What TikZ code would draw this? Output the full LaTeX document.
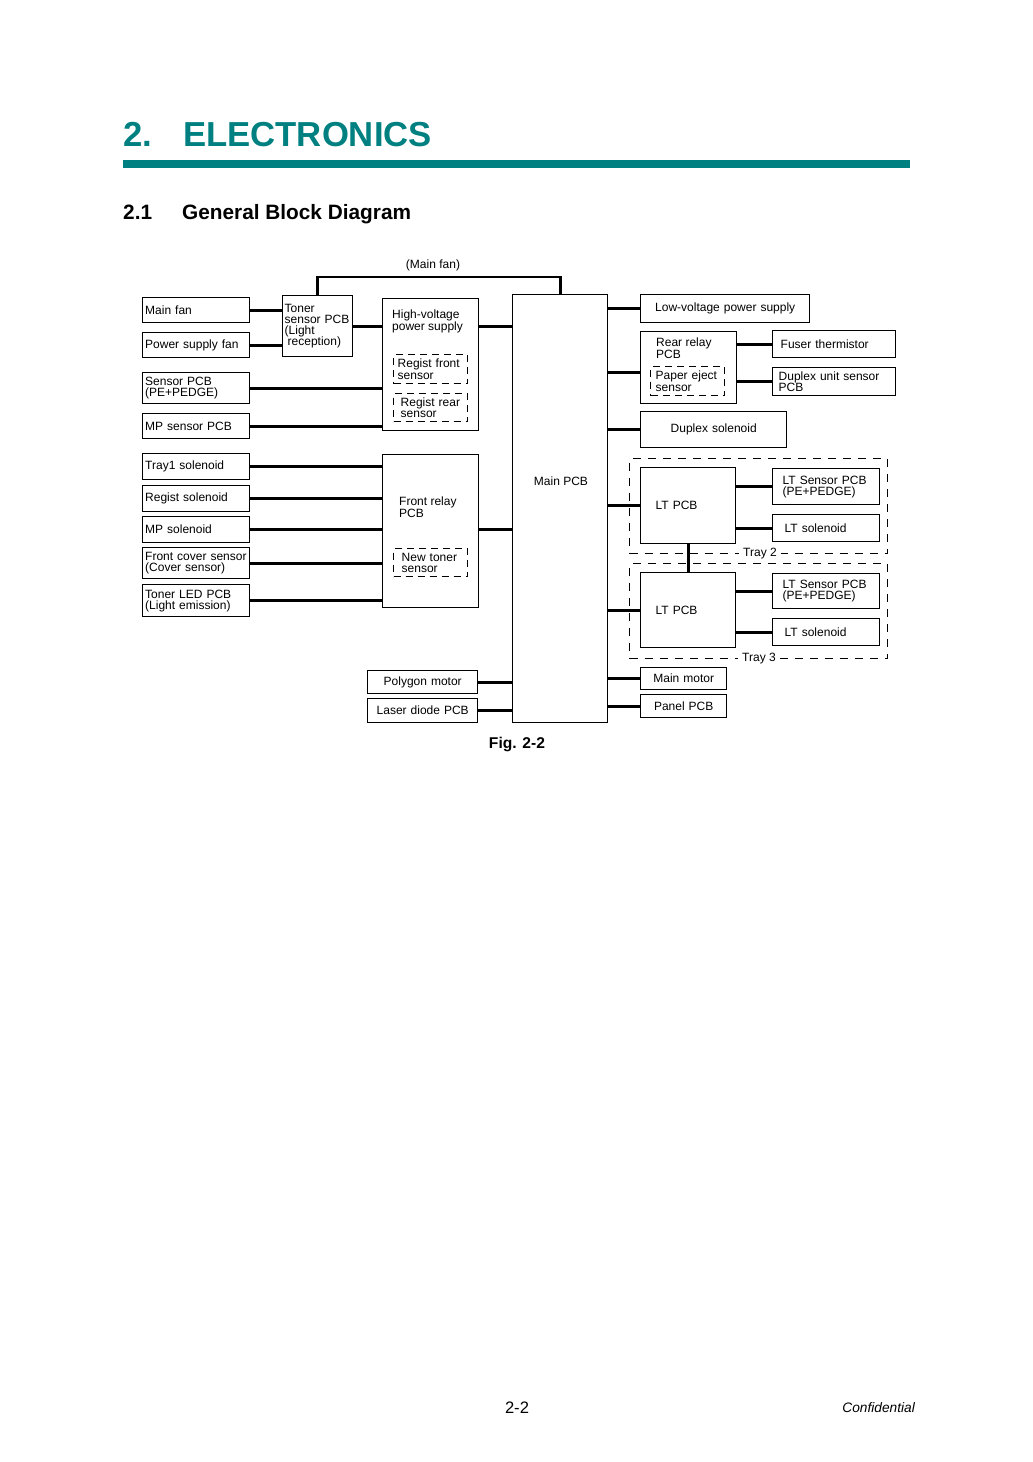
\documentclass[tikz,border=0pt]{standalone}
\usepackage{fontspec}
\setmainfont{Liberation Sans}
\definecolor{headteal}{RGB}{0,128,128}
\newcommand\dfont{\fontsize{12}{11.2}\selectfont}
\tikzset{
  blk/.style = {draw, line width=1.4pt, anchor=north west, inner ysep=0pt, align=left, font=\dfont},
  dblk/.style = {blk, dash pattern=on 7pt off 5pt},
  lcol/.style = {blk, inner xsep=2.5pt, text width=102pt},
  cblk/.style = {blk, align=center, inner xsep=5pt},
  lbl/.style = {anchor=north west, inner sep=0pt, align=left, font=\dfont},
  wire/.style = {line width=2.8pt},
  tray/.style = {draw, line width=1.4pt, dash pattern=on 8pt off 7pt, anchor=north west, inner sep=0pt},
  tlbl/.style = {font=\dfont, fill=white, inner xsep=4pt, inner ysep=1pt},
}

\begin{document}
\begin{tikzpicture}[x=1pt, y=-1pt]
\fill[white] (0,0) rectangle (1033,1462);
\useasboundingbox (0,0) rectangle (1033,1462);

% page heading
\node[anchor=base west, inner sep=0pt, text=headteal, font=\fontsize{34.7}{40}\selectfont\bfseries] (chapno) at (123,146) {2.};
\node[anchor=base west, inner sep=0pt, text=headteal, font=\fontsize{34.7}{40}\selectfont\bfseries] (chap) at (183,146) {ELECTRONICS};
\fill[headteal] (123,160) rectangle (910,168);
\node[anchor=base west, inner sep=0pt, font=\fontsize{20.8}{24}\selectfont\bfseries] (secno) at (123,219.5) {2.1};
\node[anchor=base west, inner sep=0pt, font=\fontsize{20.8}{24}\selectfont\bfseries] (sec) at (182,219.5) {General Block Diagram};

% left column
\node[lcol, minimum height=25pt] (mainfan) at (142,297) {Main fan};
\node[lcol, minimum height=25pt] (psfan) at (142,332) {Power supply fan};
\node[lcol, minimum height=31pt] (senspcb) at (142,372) {Sensor PCB\\(PE+PEDGE)};
\node[lcol, minimum height=25pt] (mpsens) at (142,413) {MP sensor PCB};
\node[lcol, minimum height=26pt] (tray1sol) at (142,453) {Tray1 solenoid};
\node[lcol, minimum height=26pt] (regsol) at (142,485) {Regist solenoid};
\node[lcol, minimum height=26pt] (mpsol) at (142,516) {MP solenoid};
\node[lcol, minimum height=31pt] (fcover) at (142,547) {\mbox{Front cover sensor}\\(Cover sensor)};
\node[lcol, minimum height=32pt] (tonerled) at (142,584) {Toner LED PCB\\(Light emission)};

% toner sensor and high-voltage
\node[blk, inner xsep=2pt, text width=66pt, minimum height=61pt] (toner) at (282,295) {Toner\\sensor PCB\\(Light\\\hspace*{3pt}reception)};
\node[font=\dfont] (fanlbl) at (433,265) {(Main fan)};
\node[blk, minimum width=96pt, minimum height=132pt] (hv) at (382,298) {};
\node[lbl] (hvtxt) at (392,310) {High-voltage\\power supply};
\node[dblk, inner xsep=4pt, text width=66pt, minimum height=29pt] (regfront) at (393,354) {Regist front\\sensor};
\node[dblk, inner xsep=7pt, text width=60pt, minimum height=28pt] (regrear) at (393,393) {Regist rear\\sensor};

% front relay
\node[blk, minimum width=96pt, minimum height=153pt] (frelay) at (382,454) {};
\node[lbl] (frelaytxt) at (399,497) {Front relay\\PCB};
\node[dblk, inner xsep=8pt, text width=58pt, minimum height=28pt] (newtoner) at (393,548) {New toner\\sensor};

% main PCB
\node[blk, minimum width=95pt, minimum height=428pt] (main) at (512,294) {};
\node[font=\dfont] (maintxt) at (561,481) {Main PCB};
\node[cblk, text width=100pt, minimum height=23pt] (polygon) at (367,670) {Polygon motor};
\node[cblk, text width=100pt, minimum height=24pt] (laser) at (367,698) {Laser diode PCB};

% right side
\node[cblk, text width=159pt, minimum height=28pt] (lvps) at (640,294) {Low-voltage power supply};
\node[blk, minimum width=96pt, minimum height=72pt] (rrelay) at (640,331) {};
\node[lbl] (rrelaytxt) at (656,338) {Rear relay\\PCB};
\node[dblk, inner xsep=5pt, text width=64pt, minimum height=29pt] (paperej) at (650,366) {Paper eject\\sensor};
\node[blk, inner xsep=8pt, text width=107pt, minimum height=27pt] (fuser) at (772,330) {Fuser thermistor};
\node[blk, inner xsep=6pt, text width=111pt, minimum height=28pt] (dupsens) at (772,367) {Duplex unit sensor\\PCB};
\node[cblk, text width=136pt, minimum height=36pt] (dupsol) at (640,411) {Duplex solenoid};

% trays 2 and 3
\node[tray, minimum width=258pt, minimum height=95pt] (tray2) at (629,458) {};
\node[tray, minimum width=258pt, minimum height=95pt] (tray3) at (629,563) {};
\node[tlbl] (tray2lbl) at (760,554) {Tray 2};
\node[tlbl] (tray3lbl) at (759,659) {Tray 3};
\node[blk, inner xsep=15pt, text width=65pt, minimum height=76pt] (lt2) at (640,467) {LT PCB};
\node[blk, inner xsep=10pt, text width=87pt, minimum height=36pt] (lts2) at (772,468) {LT Sensor PCB\\(PE+PEDGE)};
\node[blk, inner xsep=12pt, text width=83pt, minimum height=27pt] (ltsol2) at (772,514) {LT solenoid};
\node[blk, inner xsep=15pt, text width=65pt, minimum height=75pt] (lt3) at (640,572) {LT PCB};
\node[blk, inner xsep=10pt, text width=87pt, minimum height=35pt] (lts3) at (772,573) {LT Sensor PCB\\(PE+PEDGE)};
\node[blk, inner xsep=12pt, text width=83pt, minimum height=27pt] (ltsol3) at (772,618) {LT solenoid};

\node[cblk, text width=76pt, minimum height=22pt] (mainmotor) at (640,667) {Main motor};
\node[cblk, text width=76pt, minimum height=23pt] (panel) at (640,694) {Panel PCB};

% wiring
\draw[wire] (mainfan.east) -- (mainfan.east -| toner.west);
\draw[wire] (psfan.east) -- (psfan.east -| toner.west);
\draw[wire] (toner.east) -- (toner.east -| hv.west);
\draw[wire] (senspcb.east) -- (senspcb.east -| hv.west);
\draw[wire] (mpsens.east) -- (mpsens.east -| hv.west);
\draw[wire] (toner.north) -- ++(0,-18) -| (main.north);
\draw[wire] (hv.east |- toner.east) -- (main.west |- toner.east);
\foreach \n in {tray1sol, regsol, mpsol, fcover, tonerled}
  \draw[wire] (\n.east) -- (\n.east -| frelay.west);
\draw[wire] (frelay.east |- mpsol.east) -- (main.west |- mpsol.east);
\draw[wire] (polygon.east) -- (polygon.east -| main.west);
\draw[wire] (laser.east) -- (laser.east -| main.west);
\foreach \n in {lvps, dupsol, lt2, lt3, mainmotor, panel}
  \draw[wire] (\n.west -| main.east) -- (\n.west);
\coordinate (rrin) at ([yshift=-5pt]rrelay.west);
\draw[wire] (main.east |- rrin) -- (rrin);
\draw[wire] (fuser.west -| rrelay.east) -- (fuser.west);
\draw[wire] (dupsens.west -| rrelay.east) -- (dupsens.west);
\draw[wire] (lts2.west -| lt2.east) -- (lts2.west);
\draw[wire] (ltsol2.west -| lt2.east) -- (ltsol2.west);
\draw[wire] (lts3.west -| lt3.east) -- (lts3.west);
\draw[wire] (ltsol3.west -| lt3.east) -- (ltsol3.west);
\draw[wire] (lt2.south) -- (lt3.north);

% caption and footer
\node[font=\fontsize{15.6}{18}\selectfont\bfseries] (figcap) at (517,744) {Fig. 2-2};
\node[font=\fontsize{16.6}{20}\selectfont] (pageno) at (517,1408) {2-2};
\node[anchor=east, inner sep=0pt, font=\fontsize{13.7}{16}\selectfont\itshape] (conf) at (915,1408) {Confidential};
\end{tikzpicture}
\end{document}
